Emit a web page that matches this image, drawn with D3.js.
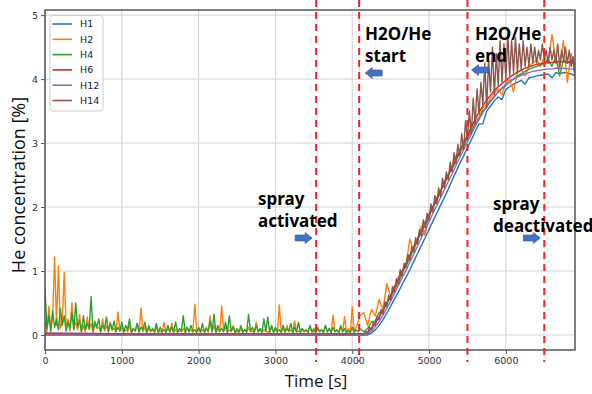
<!DOCTYPE html>
<html><head><meta charset="utf-8">
<script src="https://cdn.jsdelivr.net/npm/d3@7"></script>
<style>html,body{margin:0;padding:0;background:#fff;}svg{display:block;}</style>
</head><body>
<svg id="chart" width="592" height="394"></svg>
<script>
// ---- data ----
const seriesNames = ["H1","H2","H4","H6","H12","H14"];
const seriesColors = ["#1f77b4","#ff7f0e","#2ca02c","#d62728","#9467bd","#8c564b"];
const xTicks = [0,1000,2000,3000,4000,5000,6000];
const yTicks = [0,1,2,3,4,5];
const markerTimes = [3530, 4090, 5500, 6500];

const tBaseFine = d3.range(0, 4101, 25);     // 0..4100 s every 25 s
const tBaseCoarse = [0, 1000, 2000, 3000, 4100];
const tRise = d3.range(4150, 6901, 50);      // 4150..6900 s every 50 s
const tRiseFine = d3.range(4150, 6901, 25);  // 4150..6900 s every 25 s

const h1Base = [0.02,0.02,0.01,0.01,0.0];
const h1Rise = [0,0,0.03,0.08,0.15,0.24,0.34,0.45,0.56,0.67,
  0.79,0.9,1.02,1.15,1.27,1.4,1.52,1.65,1.78,1.9,
  2.03,2.15,2.28,2.42,2.55,2.68,2.8,2.93,3.05,3.18,
  3.3,3.3,3.5,3.58,3.66,3.72,3.68,3.84,3.88,3.92,
  3.95,3.98,3.92,4.02,4.03,4.05,4.06,4.07,4.08,4.02,
  4.1,4.09,4.1,4.1,4.08,4.05];

const h2Base = [0.2,0.05,0.45,0.1,0.3,1.22,0.15,1.08,0.1,0.2,0.98,0.12,0.25,0.06,0.5,0.1,0.2,0.08,0.32,0.05,
  0.15,0.05,0.28,0.08,0.18,0.04,0.22,0.1,0.12,0.05,0.25,0.06,0.15,0.04,0.2,0.08,0.1,0.05,0.36,0.06,
  0.12,0.04,0.08,0.05,0.15,0.04,0.1,0.06,0.18,0.04,0.42,0.05,0.12,0.04,0.1,0.05,0.08,0.04,0.12,0.05,
  0.06,0.04,0.2,0.05,0.1,0.04,0.18,0.05,0.08,0.04,0.06,0.05,0.1,0.04,0.12,0.05,0.08,0.04,0.48,0.06,
  0.1,0.04,0.08,0.05,0.12,0.04,0.3,0.05,0.15,0.04,0.1,0.05,0.45,0.06,0.12,0.04,0.08,0.05,0.15,0.04,
  0.06,0.04,0.1,0.05,0.08,0.04,0.12,0.05,0.06,0.04,0.2,0.05,0.1,0.04,0.08,0.05,0.05,0.04,0.12,0.05,
  0.08,0.04,0.47,0.05,0.1,0.04,0.15,0.05,0.08,0.04,0.22,0.05,0.06,0.04,0.1,0.05,0.08,0.04,0.12,0.05,
  0.05,0.04,0.1,0.05,0.08,0.04,0.15,0.05,0.1,0.04,0.31,0.05,0.08,0.04,0.12,0.05,0.29,0.04,0.1,0.05,
  0.44,0.06,0.12,0.2,0.3];
const h2Rise = [0.35,0.15,0.4,0.3,0.55,0.4,0.8,0.6,0.75,0.9,
  1.0,1.1,1.5,1.3,1.5,1.7,1.55,1.9,2.0,2.15,
  2.25,2.4,2.5,2.62,2.8,2.85,3.0,3.1,3.2,3.35,
  3.4,3.55,3.6,3.7,3.78,3.85,3.75,3.95,4.0,3.8,
  4.1,4.15,4.05,4.2,4.25,4.3,4.2,4.35,4.25,4.7,
  4.3,4.15,4.6,3.95,4.4,4.1];

const h4Base = [0.75,0.1,0.3,0.05,0.38,0.12,0.25,0.08,0.42,0.15,0.3,0.06,0.2,0.1,0.35,0.08,0.5,0.12,0.22,0.05,
  0.3,0.08,0.18,0.1,0.6,0.06,0.2,0.12,0.25,0.05,0.15,0.1,0.28,0.06,0.18,0.08,0.22,0.05,0.12,0.06,
  0.2,0.05,0.15,0.08,0.25,0.04,0.1,0.06,0.18,0.05,0.12,0.08,0.2,0.04,0.15,0.06,0.1,0.05,0.18,0.04,
  0.12,0.05,0.08,0.04,0.15,0.06,0.12,0.04,0.2,0.05,0.1,0.06,0.3,0.04,0.12,0.05,0.15,0.06,0.08,0.04,
  0.12,0.05,0.18,0.04,0.1,0.06,0.22,0.05,0.33,0.04,0.15,0.06,0.1,0.05,0.2,0.04,0.3,0.06,0.12,0.04,
  0.1,0.05,0.15,0.04,0.08,0.05,0.32,0.06,0.12,0.04,0.15,0.05,0.1,0.04,0.25,0.06,0.28,0.05,0.15,0.04,
  0.12,0.05,0.08,0.04,0.15,0.05,0.1,0.06,0.18,0.04,0.12,0.05,0.2,0.04,0.1,0.05,0.08,0.04,0.15,0.05,
  0.1,0.04,0.12,0.05,0.08,0.04,0.15,0.05,0.1,0.04,0.12,0.05,0.08,0.04,0.15,0.05,0.1,0.04,0.06,0.04,
  0.12,0.04,0.08,0.05,0.1];
const h4Rise = [0.05,0.1,0.2,0.22,0.35,0.38,0.5,0.58,0.72,0.8,
  0.98,1.08,1.2,1.35,1.48,1.6,1.72,1.85,2.0,2.1,
  2.25,2.36,2.5,2.6,2.72,2.85,2.95,3.08,3.18,3.3,
  3.38,3.5,3.56,3.65,3.72,3.8,3.85,3.9,3.96,4.0,
  4.05,4.08,4.12,4.15,4.18,4.2,4.22,4.25,4.3,4.2,
  4.35,4.05,4.3,4.25,4.3,4.2];

const h6Base = [0,0,0,0,0];
const h6Rise = [0,0.04,0.1,0.18,0.28,0.38,0.5,0.62,0.74,0.87,
  0.99,1.12,1.25,1.38,1.5,1.63,1.76,1.88,2.0,2.13,
  2.25,2.38,2.5,2.63,2.75,2.88,3.0,3.12,3.25,3.37,
  3.48,3.58,3.67,3.75,3.82,3.88,3.93,3.98,4.03,4.07,
  4.11,4.14,4.17,4.19,4.21,4.23,4.24,4.25,4.26,4.26,
  4.27,4.27,4.27,4.26,4.26,4.25];

const h12Base = [0.02,0.01,0.01,0.01,0.0];
const h12Rise = [0,0.02,0.06,0.13,0.21,0.31,0.42,0.53,0.65,0.77,
  0.89,1.01,1.14,1.26,1.39,1.52,1.64,1.77,1.9,2.02,
  2.15,2.27,2.4,2.52,2.65,2.77,2.9,3.02,3.14,3.26,
  3.37,3.47,3.57,3.66,3.73,3.8,3.86,3.92,3.96,4.0,
  4.03,4.06,4.08,4.1,4.12,4.13,4.14,4.15,4.16,4.16,
  4.17,4.17,4.17,4.16,4.16,4.15];

const h14Base = [0.03,0.02,0.02,0.02,0.02];
const h14Rise = [0.02,0.06,0.03,0.12,0.08,0.2,0.15,0.3,0.24,0.4,
  0.33,0.52,0.45,0.62,0.55,0.76,0.68,0.88,0.8,1.02,
  0.92,1.12,1.05,1.26,1.17,1.38,1.3,1.52,1.42,1.65,
  1.55,1.8,1.68,1.9,1.8,2.05,1.92,2.18,2.05,2.3,
  2.15,2.45,2.3,2.55,2.42,2.7,2.55,2.85,2.68,2.98,
  2.8,3.15,2.9,3.35,3.05,3.5,3.15,3.7,3.3,3.85,
  3.45,3.95,3.6,4.25,3.55,4.3,3.8,4.5,3.75,4.4,
  3.9,4.6,3.95,4.55,4.0,4.7,4.05,4.6,4.1,4.65,
  4.1,4.55,4.15,4.6,4.2,4.5,4.2,4.55,4.25,4.5,
  4.25,4.45,4.3,4.55,4.3,4.45,4.25,4.5,4.3,4.45,
  4.25,4.55,4.2,4.45,4.3,4.5,4.25,4.45,4.2,4.35,4.0];

const baseArrays = [h1Base,h2Base,h4Base,h6Base,h12Base,h14Base];
const riseArrays = [h1Rise,h2Rise,h4Rise,h6Rise,h12Rise,h14Rise];

// annotations
const notes = [
  {lines:["spray","activated"], x:258, y:205, arrowTip:3530, arrowDir:1, ay:238, dx:-4},
  {lines:["H2O/He","start"], x:365, y:40, arrowTip:4090, arrowDir:-1, ay:73, dx:6},
  {lines:["H2O/He","end"], x:475, y:40, arrowTip:5500, arrowDir:-1, ay:70, dx:4},
  {lines:["spray","deactivated"], x:493, y:210, arrowTip:6500, arrowDir:1, ay:238, dx:-4}
];

// ---- chart ----
const svg = d3.select("#chart");
const L = 45, R = 575, T = 10, B = 350;
const x = d3.scaleLinear().domain([0, 6900]).range([L, R]);
const y = d3.scaleLinear().domain([-0.235, 5.08]).range([B, T]);

svg.append("defs").append("clipPath").attr("id","clip")
  .append("rect").attr("x",L).attr("y",T).attr("width",R-L).attr("height",B-T);

// grid
const grid = svg.append("g");
grid.selectAll(".gx").data(xTicks).enter().append("line")
  .attr("x1",d=>x(d)).attr("x2",d=>x(d)).attr("y1",T).attr("y2",B)
  .attr("stroke","#d0d0d0").attr("stroke-width",1);
grid.selectAll(".gy").data(yTicks).enter().append("line")
  .attr("y1",d=>y(d)).attr("y2",d=>y(d)).attr("x1",L).attr("x2",R)
  .attr("stroke","#d0d0d0").attr("stroke-width",1);

// lines
const pickTime = (arr, candidates) => candidates.find(c => c.length === arr.length);
const line = d3.line().x(d=>x(d[0])).y(d=>y(d[1]));
const gLines = svg.append("g").attr("clip-path","url(#clip)");
seriesNames.forEach((n,i)=>{
  const b = baseArrays[i], r = riseArrays[i];
  const tb = pickTime(b, [tBaseFine, tBaseCoarse]);
  const tr = pickTime(r, [tRise, tRiseFine]);
  const pts = tb.map((t,k)=>[t,b[k]]).concat(tr.map((t,k)=>[t,r[k]]));
  gLines.append("path").datum(pts).attr("d",line)
    .attr("fill","none").attr("stroke",seriesColors[i])
    .attr("stroke-width",1.4).attr("stroke-linejoin","round");
});

// axes
const ax = svg.append("g").attr("transform",`translate(0,${B})`)
  .call(d3.axisBottom(x).tickValues(xTicks).tickSize(4).tickPadding(3).tickFormat(d3.format("d")));
const ay = svg.append("g").attr("transform",`translate(${L},0)`)
  .call(d3.axisLeft(y).tickValues(yTicks).tickSize(4).tickPadding(3).tickFormat(d3.format("d")));
[ax,ay].forEach(g=>{
  g.select(".domain").remove();
  g.selectAll("line").attr("stroke","#555");
  g.selectAll("text").attr("fill","#333").style("font-family","DejaVu Sans").style("font-size","9.5px");
});
svg.append("rect").attr("x",L).attr("y",T).attr("width",R-L).attr("height",B-T)
  .attr("fill","none").attr("stroke","#555").attr("stroke-width",1.5);

// axis labels
svg.append("text").attr("x",316).attr("y",387).attr("text-anchor","middle")
  .style("font-family","Open Sans").style("font-size","17px").attr("fill","#111").text("Time [s]");
svg.append("text").attr("transform","translate(25,185) rotate(-90)").attr("text-anchor","middle")
  .style("font-family","Open Sans").style("font-size","18px").attr("fill","#111").text("He concentration [%]");

// legend
const lg = svg.append("g");
lg.append("rect").attr("x",50).attr("y",15.5).attr("width",53).attr("height",95.5).attr("rx",3)
  .attr("fill","#fff").attr("fill-opacity",0.85).attr("stroke","#ccc").attr("stroke-width",1);
seriesNames.forEach((n,i)=>{
  const yy = 24 + i*15.3;
  lg.append("line").attr("x1",52.5).attr("x2",72).attr("y1",yy).attr("y2",yy)
    .attr("stroke",seriesColors[i]).attr("stroke-width",1.6);
  lg.append("text").attr("x",80).attr("y",yy).attr("dy","0.35em")
    .style("font-family","DejaVu Sans").style("font-size","9.5px").attr("fill","#222").text(n);
});

// dashed markers
svg.selectAll(".mk").data(markerTimes).enter().append("line")
  .attr("x1",d=>x(d)).attr("x2",d=>x(d)).attr("y1",0).attr("y2",362)
  .attr("stroke","#e8232b").attr("stroke-width",2).attr("stroke-dasharray","7,5");

// annotation text + arrows
function blockArrow(tipX, cy, dir){
  const len=17, head=7, hh=5.5, sh=3;
  const tail = tipX - dir*len, neck = tipX - dir*head;
  const p = [[tail,cy-sh],[neck,cy-sh],[neck,cy-hh],[tipX,cy],[neck,cy+hh],[neck,cy+sh],[tail,cy+sh]];
  return "M"+p.map(q=>q.join(",")).join("L")+"Z";
}
notes.forEach(nt=>{
  const t = svg.append("text").style("font-family","Noto Sans").style("font-weight","bold")
    .style("font-size","17px").attr("fill","#000");
  nt.lines.forEach((s,k)=>t.append("tspan").attr("x",nt.x).attr("y",nt.y + k*21.5).text(s));
  svg.append("path").attr("d",blockArrow(x(nt.arrowTip)+nt.dx, nt.ay, nt.arrowDir))
    .attr("fill","#4472c4").attr("stroke","#2f5597").attr("stroke-width",0.6);
});
</script>
</body></html>
